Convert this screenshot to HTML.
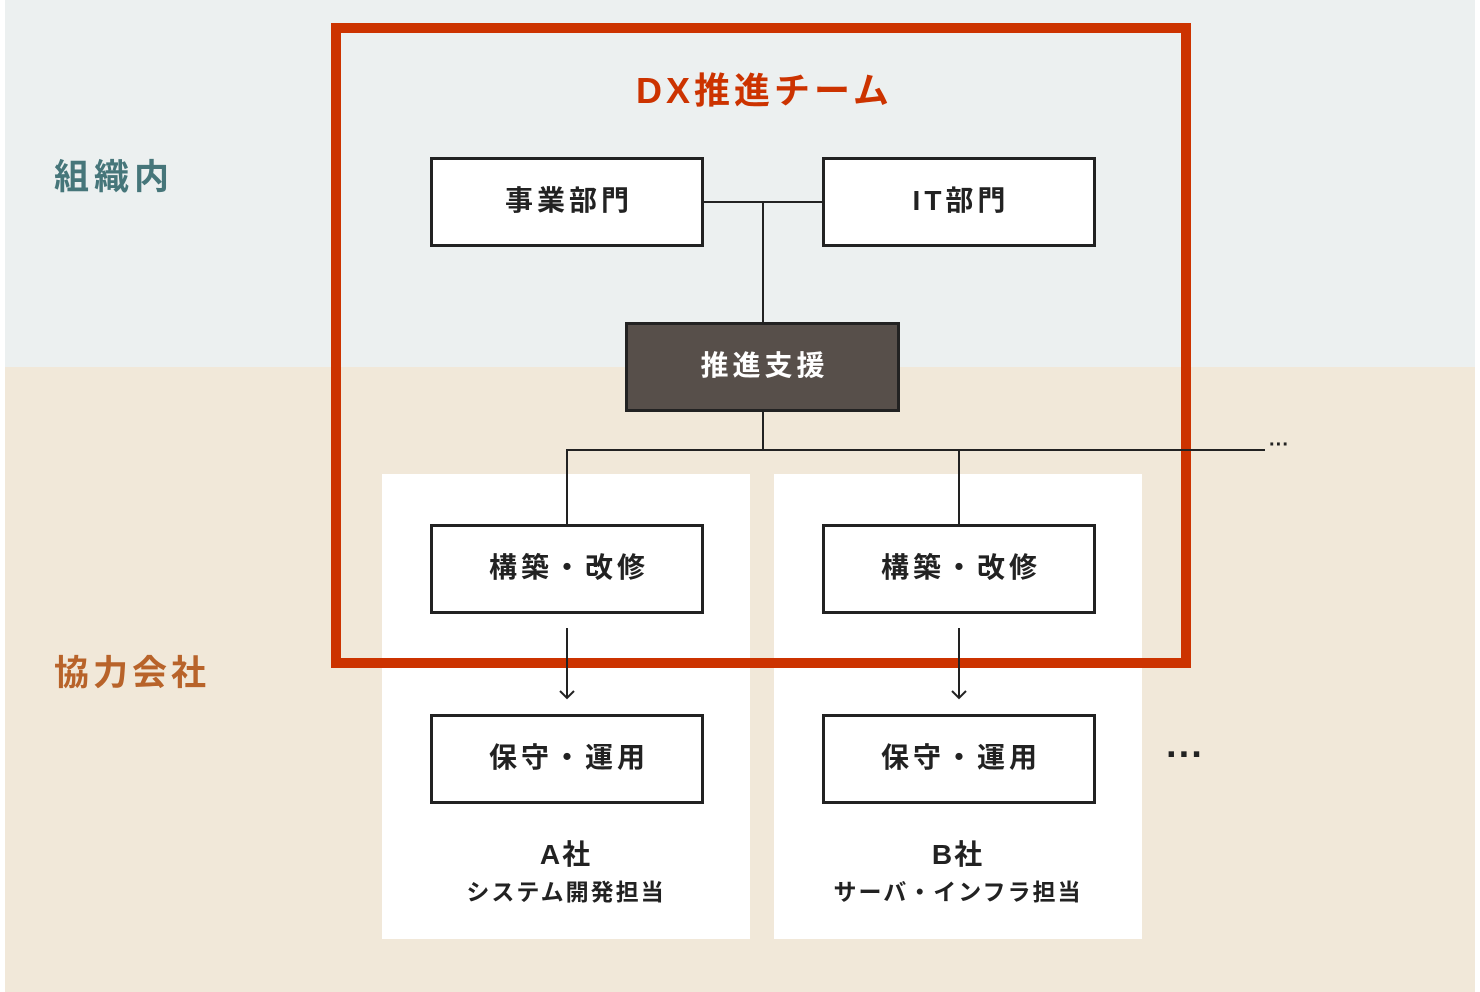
<!DOCTYPE html>
<html><head><meta charset="utf-8"><style>
*{margin:0;padding:0;box-sizing:border-box}
body{width:1480px;height:992px;background:#fff;position:relative;overflow:hidden;font-family:"Liberation Sans","Noto Sans CJK JP",sans-serif;font-weight:bold}
.a{position:absolute}
.box{position:absolute;border:3px solid #222;background:#fff;display:flex;align-items:center;justify-content:center;font-size:28px;color:#222;letter-spacing:4px;padding-left:4px;padding-bottom:6px}
.ln{position:absolute;background:#222}
</style></head><body>
<div class="a" style="left:5px;top:0;width:1470px;height:367px;background:#ecf0f0"></div>
<div class="a" style="left:5px;top:367px;width:1470px;height:625px;background:#f1e8d9"></div>
<div class="a" style="left:54px;top:149px;font-size:35px;color:#46767a;letter-spacing:5px">組織内</div>
<div class="a" style="left:54px;top:645px;font-size:35px;color:#b8632a;letter-spacing:4px">協力会社</div>
<div class="a" style="left:382px;top:474px;width:368px;height:465px;background:#fff"></div>
<div class="a" style="left:774px;top:474px;width:368px;height:465px;background:#fff"></div>
<div class="a" style="left:331px;top:23px;width:860px;height:645px;border:10px solid #cc3300"></div>
<div class="a" style="left:636px;top:62px;font-size:36px;color:#cc3300;letter-spacing:4px">DX推進チーム</div>
<div class="ln" style="left:704px;top:201px;width:118px;height:2px"></div>
<div class="ln" style="left:762px;top:202px;width:2px;height:120px"></div>
<div class="ln" style="left:762px;top:412px;width:2px;height:38px"></div>
<div class="ln" style="left:566px;top:449px;width:699px;height:2px"></div>
<div class="a" style="left:1269px;top:435px;font-size:20px;color:#222;line-height:20px">···</div>
<div class="ln" style="left:566px;top:450px;width:2px;height:75px"></div>
<div class="ln" style="left:958px;top:450px;width:2px;height:75px"></div>
<div class="box" style="left:430px;top:157px;width:274px;height:90px">事業部門</div>
<div class="box" style="left:822px;top:157px;width:274px;height:90px">IT部門</div>
<div class="box" style="left:625px;top:322px;width:275px;height:90px;background:#574f4a;color:#fff">推進支援</div>
<div class="box" style="left:430px;top:524px;width:274px;height:90px">構築・改修</div>
<div class="box" style="left:822px;top:524px;width:274px;height:90px">構築・改修</div>
<svg class="a" style="left:0;top:0" width="1480" height="992">
<g stroke="#222" stroke-width="2" fill="none">
<line x1="567" y1="628" x2="567" y2="698"/><polyline points="560,691 567,698 574,691"/>
<line x1="959" y1="628" x2="959" y2="698"/><polyline points="952,691 959,698 966,691"/>
</g></svg>
<div class="box" style="left:430px;top:714px;width:274px;height:90px">保守・運用</div>
<div class="box" style="left:822px;top:714px;width:274px;height:90px">保守・運用</div>
<div class="a" style="left:1166px;top:730px;font-size:38px;color:#222;line-height:50px">···</div>
<div class="a" style="left:382px;width:368px;top:833px;text-align:center;color:#222;font-size:28px;letter-spacing:2px">A社</div>
<div class="a" style="left:382px;width:368px;top:873px;text-align:center;color:#222;font-size:23px;letter-spacing:2px">システム開発担当</div>
<div class="a" style="left:774px;width:368px;top:833px;text-align:center;color:#222;font-size:28px;letter-spacing:2px">B社</div>
<div class="a" style="left:774px;width:368px;top:873px;text-align:center;color:#222;font-size:23px;letter-spacing:2px">サーバ・インフラ担当</div>
</body></html>
